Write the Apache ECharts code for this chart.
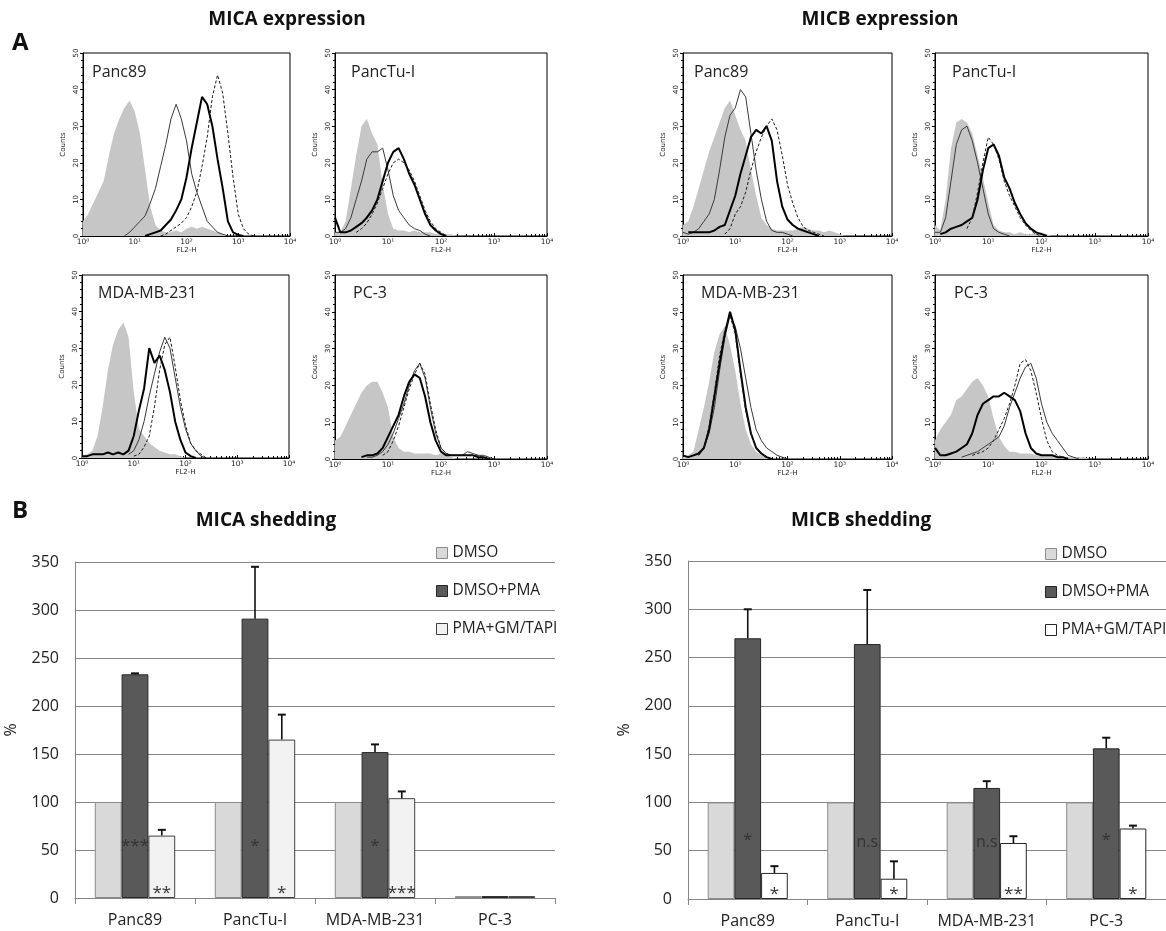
<!DOCTYPE html>
<html><head><meta charset="utf-8">
<script src="https://cdn.jsdelivr.net/npm/echarts@6/dist/echarts.min.js"></script>
<style>html,body{margin:0;padding:0;background:#fff}#c{width:1166px;height:931px}</style>
</head><body><div id="c"></div>
<script>
// ---------- DATA ----------
// Flow cytometry histograms: counts read at log10(FL2-H) steps of 0.1, starting at "from"
const LOG_STEP = 0.1;
const xTickExponents = [0, 1, 2, 3, 4];
const yTicks = [0, 10, 20, 30, 40, 50];

const micaPanc89Iso    = {from:0.0, counts:[4,6,9,12,15,22,28,32,35,37,34,28,18,8,3,1.5,1,1,1.5,1,2,2.5,2,2.5,2,1.5,1,0.5,0]};
const micaPanc89Thin   = {from:0.8, counts:[0,1,2.5,4,5.5,9,13,19,25,32,36,32,26,17,12,8,4,2.5,1,0.5,0]};
const micaPanc89Thick  = {from:1.2, counts:[0,0.5,1,1.5,3,4.5,7,10,16,24,31,38,36,30,21,13,4,1,0.3,0]};
const micaPanc89Dash   = {from:1.5, counts:[0,0.5,1.5,2.5,3.5,5,8,12,19,27,38,44,39,28,16,6,2,0.5,0]};

const micaPancTuIso    = {from:0.0, counts:[1,1,4,13,22,30,32,28,25,14,6,2,1.5,1.5,1,1.5,1,1,1,0.5,1,0.5,0.5,0]};
const micaPancTuThin   = {from:0.0, counts:[1,1,2,5,10,15,21,23,23,24,18,11,7,5,3,2,1.5,0.5,0]};
const micaPancTuThick  = {from:0.0, counts:[5,1,1,1.5,2.5,3.5,5,7,10,15,20,23,24,21,17,14,10,6,3,1.5,0.5,0]};
const micaPancTuDash   = {from:0.4, counts:[1,2,3.5,6,9,13,17,20,21,20,18,15,11,7,4,2,1,0]};

const micaMdaIso       = {from:0.0, counts:[0.5,1,2,6,14,24,31,35,37,33,18,8,6,4,3,2,1.5,1,1,0.5,0]};
const micaMdaThin      = {from:0.9, counts:[1,2,5,10,17,23,29,33,30,22,14,8,4,2,0.5,0]};
const micaMdaThick     = {from:0.0, counts:[0.5,0.5,1,1,1,1.5,1,1.5,1,2,6,13,19,30,26,28,24,18,10,5,1.5,0.5,0]};
const micaMdaDash      = {from:1.0, counts:[0.5,1,3,6,14,24,31,33,25,16,9,4,2,1,0]};

const micaPc3Iso       = {from:0.0, counts:[5,6,9,12,15,18,20,21,21,18,14,6,3,2,2,1.5,1.5,1.5,1.5,1,1.5,1,0.5,0]};
const micaPc3Thin      = {from:0.6, counts:[0.5,0.5,1,2,4,7,11,15,20,24,26,22,14,7,3,1.5,1,1,1,2,1.5,1,1,0.5,0]};
const micaPc3Thick     = {from:0.5, counts:[0.5,1,1,1.5,3,6,9,12,17,21,23,22,17,10,5,2,1,1,1,1,1,1,0.5,0.5,0]};
const micaPc3Dash      = {from:0.9, counts:[1,2,5,9,14,19,23,26,23,15,8,3,1.5,1,1,1,1,1,1,0.5,0]};

const micbPanc89Iso    = {from:0.0, counts:[3,4,8,13,18,23,27,31,35,37,33,29,26,18,11,5,3,2,1.5,1.5,1.5,1.5,2,2.5,2,1.5,1.5,1,1.5,1,0.5,0]};
const micbPanc89Thin   = {from:0.0, counts:[1,0.5,1,2,4,6,10,18,27,33,35,40,38,28,18,10,4,1.5,1,1,0.5,0]};
const micbPanc89Thick  = {from:0.1, counts:[1,1,1,1,1,1.5,2.5,3,7,11,17,22,27,29,28,30,26,15,8,4.5,3,2,1.5,1,0.5,0]};
const micbPanc89Dash   = {from:0.8, counts:[0.5,2,6,8,12,18,23,27,30,32,29,22,14,9,5,2.5,1.5,1,0.5,0]};

const micbPancTuIso    = {from:0.0, counts:[3,1.5,10,24,31,32,31,28,22,16,9,3,1.5,1,1,0.5,1,0.5,0.5,1,1,0.5,0]};
const micbPancTuThin   = {from:0.0, counts:[1,1,5,15,25,29,30,26,20,13,6,2,1,0.5,0]};
const micbPancTuThick  = {from:0.1, counts:[0.5,1,2,2.5,3,4,5,10,18,24,25,22,16,13,9,6,3.5,2,1,0.5,0]};
const micbPancTuDash   = {from:0.6, counts:[2,5,12,20,27,25,21,15,11,8,5,3,1.5,0.5,0]};

const micbMdaIso       = {from:0.0, counts:[0.5,1,2,8,14,21,29,34,36,31,24,15,8,4,2,1,0.5,0]};
const micbMdaThin      = {from:0.3, counts:[1,3,7,14,24,33,39,36,30,22,14,8,5,3,2,1,0.5,0]};
const micbMdaThick     = {from:0.0, counts:[1,0.5,1,1.5,3,8,17,26,34,40,35,24,14,7,3,1.5,0.5,0]};
const micbMdaDash      = {from:0.3, counts:[1,3,9,18,28,35,39,34,23,13,7,3,1.5,0.5,0]};

const micbPc3Iso       = {from:0.0, counts:[5,8,10,12,16,17,19,21,22,20,17,11,6,3.5,2,2,1.5,1.5,1.5,1,1,1,1,0.5,0.5,0.5,0.5,0.5,0.5,0]};
const micbPc3Thin      = {from:0.5, counts:[0.5,1,1.5,2,3,4,5,6,9,14,18,22,25,26,22,15,10,7,5,3,1,0.5,0]};
const micbPc3Thick     = {from:0.0, counts:[3,1,1,1.5,2,3,4,7,12,15,16,17,17,18,17,16,13,7,3,1.5,1,1,1,0.5,0.5,0]};
const micbPc3Dash      = {from:0.7, counts:[1,1.5,2,3,5,8,11,15,20,26,27,24,18,11,5,2,1,0.5,0]};

// Shedding bar charts (%)
const categories = ['Panc89', 'PancTu-I', 'MDA-MB-231', 'PC-3'];
const seriesNames = ['DMSO', 'DMSO+PMA', 'PMA+GM/TAPI'];
const barTicks = [0, 50, 100, 150, 200, 250, 300, 350];

const micaDmso    = [100, 100, 100, 2];
const micaPma     = [233, 291, 152, 2];
const micaGm      = [65, 165, 104, 2];
const micaPmaErr  = [1, 54, 8, 0];
const micaGmErr   = [6, 26, 7, 0];
const micaPmaSig  = ['***', '*', '*', ''];
const micaGmSig   = ['**', '*', '***', ''];

const micbDmso    = [100, 100, 100, 100];
const micbPma     = [270, 264, 115, 156];
const micbGm      = [27, 21, 58, 73];
const micbPmaErr  = [30, 56, 7, 11];
const micbGmErr   = [7, 18, 7, 3];
const micbPmaSig  = ['*', 'n.s', 'n.s', '*'];
const micbGmSig   = ['*', '*', '**', '*'];

// ---------- LAYOUT ----------
const panels = [
  {label:'Panc89',     left:83,  top:53,  width:207, height:183, lx:92,  ly:72,  curves:[micaPanc89Iso, micaPanc89Thin, micaPanc89Thick, micaPanc89Dash]},
  {label:'PancTu-I',   left:335, top:53,  width:212, height:183, lx:351, ly:72,  curves:[micaPancTuIso, micaPancTuThin, micaPancTuThick, micaPancTuDash]},
  {label:'MDA-MB-231', left:82,  top:275, width:207, height:183, lx:98,  ly:293, curves:[micaMdaIso, micaMdaThin, micaMdaThick, micaMdaDash]},
  {label:'PC-3',       left:335, top:275, width:212, height:184, lx:353, ly:293, curves:[micaPc3Iso, micaPc3Thin, micaPc3Thick, micaPc3Dash]},
  {label:'Panc89',     left:683, top:53,  width:209, height:183, lx:694, ly:72,  curves:[micbPanc89Iso, micbPanc89Thin, micbPanc89Thick, micbPanc89Dash]},
  {label:'PancTu-I',   left:935, top:53,  width:213, height:183, lx:952, ly:72,  curves:[micbPancTuIso, micbPancTuThin, micbPancTuThick, micbPancTuDash]},
  {label:'MDA-MB-231', left:683, top:275, width:209, height:184, lx:701, ly:293, curves:[micbMdaIso, micbMdaThin, micbMdaThick, micbMdaDash]},
  {label:'PC-3',       left:935, top:275, width:213, height:184, lx:954, ly:293, curves:[micbPc3Iso, micbPc3Thin, micbPc3Thick, micbPc3Dash]}
];
const curveStyles = [
  {kind:'area'},
  {kind:'line', color:'#3a3a3a', width:1, type:'solid'},
  {kind:'line', color:'#000000', width:2, type:'solid'},
  {kind:'line', color:'#1a1a1a', width:1, type:[3,2]}
];
const SUP = ['\u2070','\u00B9','\u00B2','\u00B3','\u2074'];
const smallFont = 'DejaVu Sans';
const mainFont = 'Open Sans';

const grids = [], xAxes = [], yAxes = [], series = [], graphics = [];

panels.forEach((p, gi) => {
  grids.push({left:p.left, top:p.top, width:p.width, height:p.height, show:true, borderColor:'#000', borderWidth:1, backgroundColor:'transparent'});
  xAxes.push({
    gridIndex:gi, type:'log', logBase:10, min:Math.pow(10, xTickExponents[0]), max:Math.pow(10, xTickExponents[xTickExponents.length-1]),
    name:'FL2-H', nameLocation:'middle', nameGap:10,
    nameTextStyle:{fontSize:7, fontFamily:smallFont, color:'#222'},
    axisLine:{show:true, lineStyle:{color:'#000', width:1}},
    axisTick:{show:true, inside:true, length:3, lineStyle:{color:'#000'}},
    minorTick:{show:true, splitNumber:9, length:2, lineStyle:{color:'#000'}},
    splitLine:{show:false}, minorSplitLine:{show:false},
    axisLabel:{fontSize:7.5, margin:2, color:'#222', fontFamily:smallFont,
      formatter: v => '10' + SUP[Math.round(Math.log10(v))]}
  });
  yAxes.push({
    gridIndex:gi, type:'value', min:yTicks[0], max:yTicks[yTicks.length-1], interval:10,
    name:'Counts', nameLocation:'middle', nameGap:16, nameRotate:90,
    nameTextStyle:{fontSize:7, fontFamily:smallFont, color:'#222'},
    axisLine:{show:true, lineStyle:{color:'#000', width:1}},
    axisTick:{show:true, length:3, lineStyle:{color:'#000'}},
    minorTick:{show:true, splitNumber:5, length:2, lineStyle:{color:'#000'}},
    splitLine:{show:false},
    axisLabel:{rotate:90, fontSize:7, margin:3, color:'#222', fontFamily:smallFont}
  });
  p.curves.forEach((c, ci) => {
    const st = curveStyles[ci];
    const data = c.counts.map((v, i) => [Math.pow(10, c.from + i * LOG_STEP), v]);
    const s = {type:'line', xAxisIndex:gi, yAxisIndex:gi, data, symbol:'none', silent:true, animation:false, z:2 + ci};
    if (st.kind === 'area') {
      s.lineStyle = {width:0};
      s.areaStyle = {color:'#c6c6c6', opacity:1};
    } else {
      s.lineStyle = {color:st.color, width:st.width, type:st.type};
    }
    series.push(s);
  });
  graphics.push({type:'text', x:p.lx, y:p.ly, style:{text:p.label, fontSize:16, fontFamily:mainFont, fill:'#222', verticalAlign:'middle'}});
});

// ---------- BAR CHARTS ----------
const barGrids = [
  {left:75,  top:562, width:480, height:336},
  {left:688, top:561, width:478, height:338}
];
const barSets = [
  {vals:[micaDmso, micaPma, micaGm], errs:[null, micaPmaErr, micaGmErr], sig:[null, micaPmaSig, micaGmSig],
   colors:['#d9d9d9', '#595959', '#f2f2f2'], borders:['#8c8c8c', '#262626', '#404040']},
  {vals:[micbDmso, micbPma, micbGm], errs:[null, micbPmaErr, micbGmErr], sig:[null, micbPmaSig, micbGmSig],
   colors:['#d9d9d9', '#595959', '#ffffff'], borders:['#8c8c8c', '#262626', '#262626']}
];
const BAR_GAP = 0.33;
const legends = [];
const legendPos = [{left:431, top:540}, {left:1040, top:541}];

barSets.forEach((set, bi) => {
  const gi = grids.length;
  grids.push(Object.assign({containLabel:false}, barGrids[bi]));
  xAxes.push({
    gridIndex:gi, type:'category', data:categories,
    axisLine:{show:true, lineStyle:{color:'#868686', width:1}},
    axisTick:{show:true, length:6, alignWithLabel:false, lineStyle:{color:'#868686'}},
    axisLabel:{interval:0, fontSize:16, margin:14, color:'#222', fontFamily:mainFont}
  });
  yAxes.push({
    gridIndex:gi, type:'value', min:barTicks[0], max:barTicks[barTicks.length-1], interval:50,
    name:'%', nameLocation:'middle', nameGap:56, nameRotate:90,
    nameTextStyle:{fontSize:16, fontFamily:mainFont, color:'#222'},
    axisLine:{show:true, lineStyle:{color:'#868686', width:1}},
    axisTick:{show:false},
    splitLine:{show:true, lineStyle:{color:'#868686', width:1}},
    axisLabel:{fontSize:16, margin:16, color:'#222', fontFamily:mainFont}
  });
  set.vals.forEach((vals, si) => {
    series.push({
      type:'bar', name:seriesNames[si], xAxisIndex:gi, yAxisIndex:gi, data:vals,
      barGap:'0%', barCategoryGap:(BAR_GAP*100)+'%', animation:false, silent:true, z:2,
      itemStyle:{color:set.colors[si], borderColor:set.borders[si], borderWidth:1}
    });
  });
  // error bars
  set.errs.forEach((errs, si) => {
    if (!errs) return;
    const vals = set.vals[si];
    series.push({
      type:'custom', xAxisIndex:gi, yAxisIndex:gi, silent:true, animation:false, z:5,
      data: vals.map((v, i) => [i, v, errs[i]]),
      encode:{x:0, y:1},
      renderItem:(params, api) => {
        const e = api.value(2);
        if (!e) return null;
        const base = api.coord([api.value(0), api.value(1)]);
        const top = api.coord([api.value(0), api.value(1) + e]);
        const band = api.size([1, 0])[0];
        const bw = band * (1 - BAR_GAP) / 3;
        const x = base[0] + (si - 1) * bw;
        return {type:'group', children:[
          {type:'line', shape:{x1:x, y1:base[1], x2:x, y2:top[1]}, style:{stroke:'#111', lineWidth:1.6}},
          {type:'line', shape:{x1:x - 4, y1:top[1], x2:x + 4, y2:top[1]}, style:{stroke:'#111', lineWidth:2}}
        ]};
      }
    });
  });
  // significance marks
  set.sig.forEach((marks, si) => {
    if (!marks) return;
    series.push({
      type:'custom', xAxisIndex:gi, yAxisIndex:gi, silent:true, animation:false, z:6,
      data: categories.map((c, i) => [i, 0]),
      encode:{x:0, y:1},
      renderItem:(params, api) => {
        const txt = marks[params.dataIndex];
        if (!txt) return null;
        const isNs = txt === 'n.s';
        const yv = si === 1 ? (bi === 0 ? 57 : (isNs ? 59 : 64)) : 8;
        const c = api.coord([api.value(0), yv]);
        const band = api.size([1, 0])[0];
        const bw = band * (1 - BAR_GAP) / 3;
        const x = c[0] + (si - 1) * bw;
        return {type:'text', x:x, y:c[1] + (isNs ? 0 : 3), style:{text:txt, fontSize:isNs ? 16 : 17, fontFamily:mainFont, fill:'#333', align:'center', verticalAlign:'middle'}};
      }
    });
  });
  legends.push({
    left:legendPos[bi].left, top:legendPos[bi].top, orient:'vertical', icon:'rect',
    itemWidth:11, itemHeight:11, itemGap:22, itemTextGap:4, selectedMode:false,
    textStyle:{fontSize:15.5, fontFamily:mainFont, color:'#222', lineHeight:16},
    data: seriesNames.map((n, si) => ({name:n, itemStyle:{color:set.colors[si], borderColor:set.borders[si], borderWidth:1}}))
  });
});

// titles and panel letters
graphics.push(
  {type:'text', left:12, top:31, style:{text:'A', fontSize:24, fontWeight:'bold', fontFamily:mainFont, fill:'#111'}},
  {type:'text', left:12, top:499, style:{text:'B', fontSize:24, fontWeight:'bold', fontFamily:mainFont, fill:'#111'}},
  {type:'text', x:287, y:20, style:{text:'MICA expression', fontSize:19, fontWeight:'bold', fontFamily:mainFont, fill:'#111', align:'center', verticalAlign:'middle'}},
  {type:'text', x:880, y:20, style:{text:'MICB expression', fontSize:19, fontWeight:'bold', fontFamily:mainFont, fill:'#111', align:'center', verticalAlign:'middle'}},
  {type:'text', x:266, y:521, style:{text:'MICA shedding', fontSize:19, fontWeight:'bold', fontFamily:mainFont, fill:'#111', align:'center', verticalAlign:'middle'}},
  {type:'text', x:861, y:521, style:{text:'MICB shedding', fontSize:19, fontWeight:'bold', fontFamily:mainFont, fill:'#111', align:'center', verticalAlign:'middle'}}
);

const chart = echarts.init(document.getElementById('c'), null, {renderer:'canvas'});
chart.setOption({
  backgroundColor:'#fff',
  animation:false,
  grid:grids, xAxis:xAxes, yAxis:yAxes, series:series, legend:legends,
  graphic:graphics
});
</script></body></html>
